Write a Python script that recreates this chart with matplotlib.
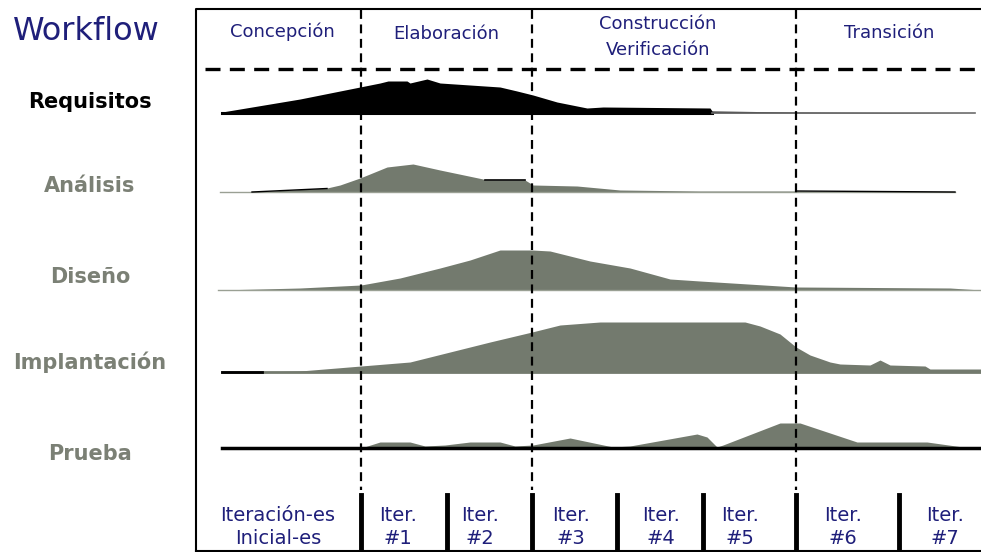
import matplotlib.pyplot as plt

# phase / iteration labels
phases = ["Concepción", "Elaboración", "Construcción\nVerificación", "Transición"]
phase_x = [282, 446, 658, 889]
phase_y = [32, 34, 37, 33]
phase_bounds = [361, 532, 796]

iters = ["Iteración-es\nInicial-es", "Iter.\n#1", "Iter.\n#2", "Iter.\n#3",
         "Iter.\n#4", "Iter.\n#5", "Iter.\n#6", "Iter.\n#7"]
iter_x = [278, 398, 480, 571, 661, 740, 843, 945]
iter_bounds = [361, 447, 532, 617, 703, 796, 899]

workflows = ["Requisitos", "Análisis", "Diseño", "Implantación", "Prueba"]
base_y = [113, 192, 290, 372, 448]
label_y = [102, 186, 277, 362, 454]

# effort profiles (x position along the timeline, height above baseline)
req_x = [222, 300, 360, 380, 388, 407, 410, 427, 440, 500, 517, 533, 557, 587, 603, 710, 712, 800, 975]
req_h = [1, 14, 26, 30, 32, 32, 30, 34, 30, 26, 22, 18, 11, 5, 6, 5, 2, 1, 0]
ana_x = [252, 327, 340, 360, 387, 413, 440, 483, 485, 525, 533, 577, 620, 700, 796, 955]
ana_h = [0, 4, 7, 14, 25, 28, 22, 13, 12, 12, 7, 6, 2, 1, 1, 0]
dis_x = [218, 260, 300, 361, 400, 440, 470, 500, 532, 550, 590, 630, 670, 700, 796, 950, 981]
dis_h = [0, 1, 2, 5, 12, 22, 30, 40, 40, 39, 29, 22, 11, 9, 3, 2, 0]
imp_x = [222, 260, 300, 361, 410, 450, 490, 532, 560, 600, 745, 760, 780, 796, 810, 830, 840, 870, 880, 890, 925, 930, 981]
imp_h = [0, 0, 1, 6, 10, 20, 30, 40, 47, 50, 50, 46, 38, 25, 17, 10, 8, 7, 12, 7, 6, 3, 3]
pru_x = [361, 380, 410, 425, 445, 470, 500, 515, 533, 570, 613, 630, 697, 707, 717, 723, 780, 800, 857, 927, 970]
pru_h = [0, 6, 6, 2, 3, 6, 6, 2, 3, 10, 1, 2, 14, 11, 1, 3, 25, 25, 6, 6, 0]
profiles = [(req_x, req_h), (ana_x, ana_h), (dis_x, dis_h), (imp_x, imp_h), (pru_x, pru_h)]

blue = "#1f1f7a"
gray = "#737a6e"
label_colors = ["black", "#7b8075", "#7b8075", "#7b8075", "#7b8075"]
fill_colors = ["black", gray, gray, gray, gray]

fig = plt.figure(figsize=(9.81, 5.52), dpi=100)
ax = fig.add_axes([0, 0, 1, 1])
ax.set_xlim(0, 981)
ax.set_ylim(552, 0)
ax.axis("off")

# frame
ax.plot([196, 196, 985], [552, 9, 9], color="black", lw=1.5)
ax.plot([196, 985], [551, 551], color="black", lw=1.5)

# workflow rows
for i, (xs, hs) in enumerate(profiles):
    b = base_y[i]
    ax.fill_between(xs, [b] * len(xs), [b - h for h in hs], color=fill_colors[i], lw=0, zorder=2)
    ax.text(90, label_y[i], workflows[i], ha="center", va="center", fontsize=15,
            fontweight="bold", color=label_colors[i])

ax.plot([222, 712], [113, 113], color="black", lw=2.2, zorder=3)
ax.plot([712, 975], [112.5, 112.5], color="#6d6d6d", lw=1.2, zorder=3)
ax.plot([220, 955], [192, 192], color="#9aa094", lw=1, zorder=3)
ax.plot([252, 327], [192, 188.5], color="black", lw=1, zorder=3)
ax.plot([485, 525], [180, 180], color="black", lw=1.2, zorder=3)
ax.plot([796, 955], [191, 192], color="black", lw=1, zorder=3)
ax.plot([218, 981], [290, 290], color="#9aa094", lw=1, zorder=3)
ax.plot([222, 981], [372, 372], color=gray, lw=2, zorder=3)
ax.plot([222, 262], [372, 372], color="black", lw=2, zorder=3)
ax.plot([222, 981], [448, 448], color="black", lw=2.5, zorder=3)

# phase boundaries
for x in phase_bounds:
    ax.plot([x, x], [10, 490], color="black", lw=1.6, ls=(0, (4, 2.5)), zorder=4)
ax.plot([205, 981], [69, 69], color="black", lw=2.4, ls=(0, (4.5, 2.8)), zorder=4)

for x, y, t in zip(phase_x, phase_y, phases):
    ax.text(x, y, t, ha="center", va="center", fontsize=13, color=blue, linespacing=1.6)

# iterations
for x in iter_bounds:
    ax.plot([x, x], [495, 552], color="black", lw=3.5, zorder=4)
for x, t in zip(iter_x, iters):
    ax.text(x, 527, t, ha="center", va="center", fontsize=14, color=blue, linespacing=1.3)

ax.text(86, 32, "Workflow", ha="center", va="center", fontsize=23, color=blue)

fig.savefig("out.png", dpi=100)
